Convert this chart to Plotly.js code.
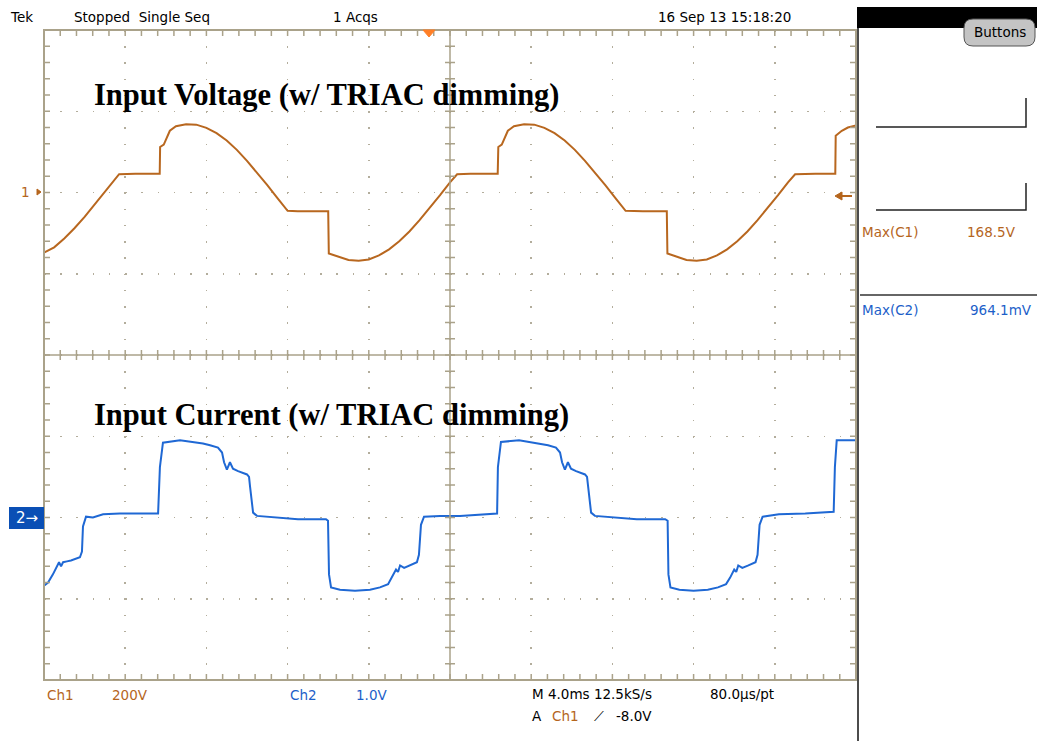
<!DOCTYPE html>
<html><head><meta charset="utf-8">
<script src="https://cdn.plot.ly/plotly-3.0.1.min.js"></script>
<style>html,body{margin:0;padding:0;background:#fff;} #chart{width:1037px;height:741px;}</style>
</head><body><div id="chart"></div>
<script>
// ---- Data (time in ms, Ch1 in V, Ch2 in V) ----
const timeCh1 = [0,0.5,1.0,1.5,2.0,2.5,3.0,3.5,3.7,4.5,5.0,5.7,5.72,5.9,6.2,6.5,7.0,7.5,8.0,8.5,9.0,9.5,10.0,10.5,11.0,11.5,12.0,12.5,13.5,14.0,14.03,14.5,15.0,15.5,16.0,16.5,17.0,17.5,18.0,18.5,19.0,19.5,20.0,20.35,21.0,22.35,22.38,22.55,22.85,23.15,23.65,24.15,24.65,25.15,25.65,26.15,26.65,27.15,27.65,28.15,28.65,29.5,30.68,30.71,31.15,31.65,32.15,32.65,33.15,33.65,34.15,34.65,35.15,35.65,36.15,36.65,37.0,38.0,38.98,39.0,39.3,39.6,40.0];
const voltCh1 = [-148,-135,-113,-88,-60,-29,3,34,45,46,46,46,112,118,152,163,168,167,159,146,128,105,78,49,18,-14,-45,-46,-46,-46,-150,-158,-166,-168,-165,-155,-140,-120,-96,-68,-38,-7,25,45,46,46,112,118,152,163,168,167,159,146,128,105,78,49,18,-14,-45,-46,-46,-150,-158,-166,-168,-165,-155,-140,-120,-96,-68,-38,-7,25,45,46,46,140,152,160,165];
const timeCh2 = [0,0.2,0.44,0.64,0.74,0.84,0.94,1.13,1.33,1.77,1.87,1.92,2.07,2.41,2.91,3.74,5.62,5.71,5.86,6.7,7.59,7.83,8.18,8.57,8.77,8.87,9.01,9.16,9.31,9.56,10.0,10.1,10.15,10.25,10.3,10.49,10.99,11.63,12.51,13.89,13.99,14.04,14.14,14.58,15.32,16.06,16.55,16.95,17.14,17.34,17.44,17.54,17.74,18.03,18.37,18.47,18.57,18.72,19.51,20.49,22.32,22.36,22.51,23.4,24.24,24.5,24.83,25.22,25.42,25.52,25.66,25.81,25.96,26.21,26.65,26.75,26.8,26.9,26.95,27.14,27.64,28.3,29.2,30.6,30.72,30.76,30.86,31.3,32.0,32.7,33.2,33.6,33.8,34.0,34.1,34.2,34.4,34.7,35.05,35.15,35.25,35.4,36.2,37.5,38.9,38.96,39.05,40.0];
const voltCh2 = [-0.84,-0.80,-0.70,-0.60,-0.55,-0.60,-0.55,-0.54,-0.53,-0.49,-0.42,-0.11,0.01,0.0,0.04,0.05,0.05,0.62,0.92,0.95,0.92,0.91,0.89,0.86,0.80,0.68,0.59,0.68,0.60,0.57,0.53,0.50,0.38,0.18,0.06,0.02,0.01,0.0,-0.02,-0.02,-0.04,-0.70,-0.86,-0.89,-0.90,-0.89,-0.86,-0.82,-0.74,-0.64,-0.67,-0.59,-0.62,-0.59,-0.55,-0.46,-0.09,0.01,0.02,0.02,0.05,0.62,0.93,0.95,0.92,0.91,0.89,0.86,0.80,0.68,0.59,0.68,0.60,0.57,0.53,0.50,0.38,0.18,0.06,0.02,0.01,0.0,-0.02,-0.02,-0.04,-0.70,-0.86,-0.89,-0.90,-0.89,-0.86,-0.82,-0.74,-0.64,-0.67,-0.59,-0.62,-0.59,-0.55,-0.46,-0.09,0.01,0.04,0.05,0.07,0.62,0.95,0.95];

const topTexts = [["Tek",8],["Stopped  Single Seq",72],["1 Acqs",331],["16 Sep 13 15:18:20",656]];

// ---- Layout helpers ----
const L=44, R=856, T=30, B=680, W=R-L, H=B-T, CX=(L+R)/2, CY=(T+B)/2;
const px = x => (x-L)/W, py = y => (B-y)/H;
const TAN='#aaa28a', BROWN='#b5651d', BLUE='#1d5fc9';

let p='';
for(let i=0;i<=50;i++){
  const x=px(L+i*W/50);
  p+=`M${x},${py(T)}L${x},${py(T+6)}M${x},${py(B)}L${x},${py(B-6)}M${x},${py(CY-5)}L${x},${py(CY+5)}`;
}
for(let j=0;j<=40;j++){
  const y=py(T+j*H/40);
  p+=`M${px(L)},${y}L${px(L+6)},${y}M${px(R)},${y}L${px(R-6)},${y}M${px(CX-5)},${y}L${px(CX+5)},${y}`;
}
function pill(x0,y0,x1,y1,r){
  return `M${px(x0+r)},${py(y0)}L${px(x1-r)},${py(y0)}Q${px(x1)},${py(y0)} ${px(x1)},${py(y0+r)}L${px(x1)},${py(y1-r)}Q${px(x1)},${py(y1)} ${px(x1-r)},${py(y1)}L${px(x0+r)},${py(y1)}Q${px(x0)},${py(y1)} ${px(x0)},${py(y1-r)}L${px(x0)},${py(y0+r)}Q${px(x0)},${py(y0)} ${px(x0+r)},${py(y0)}Z`;
}
const shapes=[
  {type:'path',xref:'paper',yref:'paper',path:p,line:{color:TAN,width:1.5}},
  {type:'line',xref:'paper',yref:'paper',x0:px(CX),x1:px(CX),y0:0,y1:1,line:{color:TAN,width:1.5}},
  {type:'line',xref:'paper',yref:'paper',x0:0,x1:1,y0:py(CY),y1:py(CY),line:{color:TAN,width:1.5}},
  {type:'rect',xref:'paper',yref:'paper',x0:0,x1:1,y0:0,y1:1,line:{color:TAN,width:2}},
  // trigger position marker
  {type:'path',xref:'paper',yref:'paper',path:`M${px(423)},${py(30)}L${px(435)},${py(30)}L${px(429)},${py(37)}Z`,fillcolor:'#ff7f27',line:{color:'#ff7f27',width:1}},
  // trigger level arrow
  {type:'line',xref:'paper',yref:'paper',x0:px(840),x1:px(852),y0:py(196),y1:py(196),line:{color:BROWN,width:2}},
  {type:'path',xref:'paper',yref:'paper',path:`M${px(835)},${py(196)}L${px(842)},${py(192)}L${px(842)},${py(200)}Z`,fillcolor:BROWN,line:{color:BROWN,width:1}},
  // ch1 ground marker
  {type:'path',xref:'paper',yref:'paper',path:`M${px(37)},${py(189)}L${px(41)},${py(192)}L${px(37)},${py(195)}Z`,fillcolor:BROWN,line:{color:BROWN,width:1}},
  // ch2 ground marker box
  {type:'rect',xref:'paper',yref:'paper',x0:px(9),x1:px(44),y0:py(529),y1:py(507),fillcolor:'#0a4fb5',line:{width:0}},
  // right panel
  {type:'rect',xref:'paper',yref:'paper',x0:px(857),x1:px(1037),y0:py(28),y1:py(7),fillcolor:'#000',line:{width:0}},
  {type:'line',xref:'paper',yref:'paper',x0:px(858),x1:px(858),y0:py(741),y1:py(28),line:{color:'#111',width:1.5}},
  {type:'path',xref:'paper',yref:'paper',path:pill(964,19,1035,46,9),fillcolor:'#c4c4c4',line:{color:'#555',width:1}},
  {type:'path',xref:'paper',yref:'paper',path:`M${px(876)},${py(127)}L${px(1026)},${py(127)}L${px(1026)},${py(98)}`,line:{color:'#222',width:1.5}},
  {type:'path',xref:'paper',yref:'paper',path:`M${px(876)},${py(210)}L${px(1026)},${py(210)}L${px(1026)},${py(183)}`,line:{color:'#222',width:1.5}},
  {type:'line',xref:'paper',yref:'paper',x0:px(860),x1:px(1037),y0:py(295),y1:py(295),line:{color:'#333',width:1.5}}
];

const F='DejaVu Sans';
function ann(text,x,y,color,opts){
  return Object.assign({text:text,xref:'paper',yref:'paper',x:px(x),y:py(y),xanchor:'left',yanchor:'middle',showarrow:false,
    font:{family:F,size:13.5,color:color||'#000'}},opts||{});
}
const annotations=[];
topTexts.forEach(t=>annotations.push(ann(t[0],t[1],17,'#000')));
annotations.push(
  ann('Buttons',999.5,32,'#000',{xanchor:'center'}),
  ann('Max(C1)',860,232,BROWN), ann('168.5V',1018,232,BROWN,{xanchor:'right'}),
  ann('Max(C2)',860,310,BLUE), ann('964.1mV',1034,310,BLUE,{xanchor:'right'}),
  ann('1',19,192,BROWN),
  ann('2→',27,518,'#fff',{xanchor:'center',font:{family:F,size:15,color:'#fff'}}),
  ann('Ch1',45,695,BROWN), ann('200V',110,695,BROWN),
  ann('Ch2',288,695,BLUE), ann('1.0V',354,695,BLUE),
  ann('M 4.0ms 12.5kS/s',530,694,'#000'), ann('80.0µs/pt',708,694,'#000'),
  ann('A',530,716,'#000'), ann('Ch1',550,716,BROWN), ann('⟋',592,716,'#000'), ann('-8.0V',614,716,'#000'),
  ann('<b>Input Voltage (w/ TRIAC dimming)</b>',92,95,'#000',{font:{family:'Liberation Serif',size:30.5,color:'#000'}}),
  ann('<b>Input Current (w/ TRIAC dimming)</b>',92,415,'#000',{font:{family:'Liberation Serif',size:30.5,color:'#000'}})
);

const gridCommon={showgrid:true,gridcolor:'#b3ad9c',gridwidth:1.5,zeroline:false,showline:false,ticks:'',showticklabels:false,fixedrange:true};
const layout={
  width:1037,height:741,margin:{l:L,r:1037-R,t:T,b:741-B,pad:0},
  paper_bgcolor:'#fff',plot_bgcolor:'#fff',showlegend:false,
  xaxis:Object.assign({range:[0,40],dtick:4,tick0:0,griddash:'1.5px,14.74px'},gridCommon),
  yaxis:Object.assign({range:[-1200,400],dtick:200,tick0:0,griddash:'1.5px,14.74px'},gridCommon),
  yaxis2:{range:[-2,6],overlaying:'y',visible:false,fixedrange:true},
  shapes:shapes,annotations:annotations
};
const data=[
  {x:timeCh1,y:voltCh1,type:'scatter',mode:'lines',line:{color:'#b8671f',width:2},hoverinfo:'skip'},
  {x:timeCh2,y:voltCh2,type:'scatter',mode:'lines',yaxis:'y2',line:{color:'#1f68d4',width:2},hoverinfo:'skip'}
];
Plotly.newPlot('chart',data,layout,{staticPlot:true,displayModeBar:false});
</script></body></html>
